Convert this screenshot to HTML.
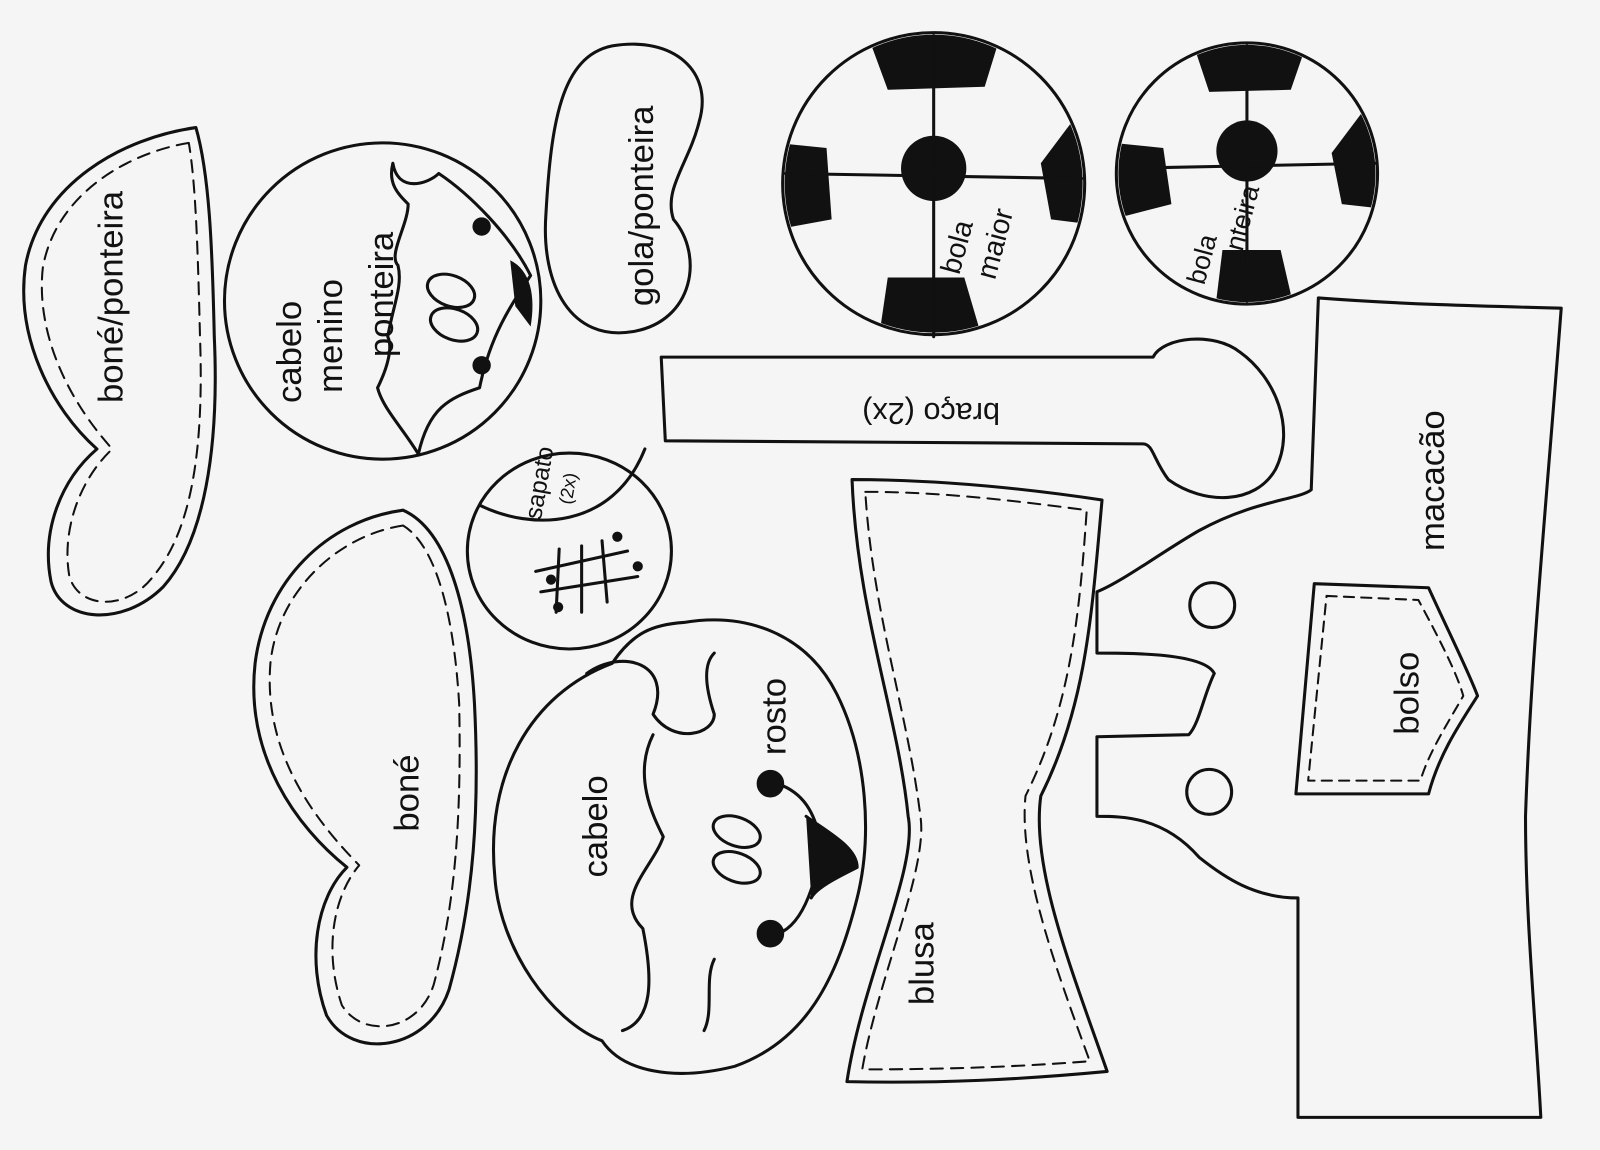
<!DOCTYPE html>
<html><head><meta charset="utf-8"><style>
html,body{margin:0;padding:0;background:#f5f5f5;}
svg{display:block}
text{font-family:"Liberation Sans",sans-serif;fill:#111;}
</style></head><body>
<svg width="1600" height="1150" viewBox="0 0 1568 1127" preserveAspectRatio="none" xmlns="http://www.w3.org/2000/svg">
<defs>
<clipPath id="c1"><circle cx="915" cy="180" r="146"/></clipPath>
<clipPath id="c2"><circle cx="1222" cy="170" r="126"/></clipPath>
</defs>
<rect width="1568" height="1127" fill="#f5f5f5"/>
<g fill="#111" clip-path="url(#c1)">
<circle cx="915" cy="165" r="32"/>
<path d="M845,20 L985,20 L965,85 L870,88 Z"/>
<path d="M760,140 L810,145 L815,215 L760,225 Z"/>
<path d="M1070,120 L1050,120 L1020,160 L1030,215 L1070,220 Z"/>
<path d="M860,340 L870,272 L945,272 L965,340 Z"/>
</g>
<g fill="#111" clip-path="url(#c2)">
<circle cx="1222" cy="148" r="30"/>
<path d="M1165,30 L1285,30 L1265,88 L1185,90 Z"/>
<path d="M1090,140 L1140,145 L1148,200 L1090,215 Z"/>
<path d="M1360,110 L1335,110 L1305,150 L1315,200 L1360,205 Z"/>
<path d="M1190,310 L1198,245 L1255,245 L1270,310 Z"/>
</g>
<g fill="none" stroke="#111" stroke-width="3" stroke-linecap="round" stroke-linejoin="round">
<path d="M192,125 C120,135 40,180 25,260 C15,330 50,400 95,440 C60,470 40,520 50,570 C60,610 120,615 160,575 C200,530 215,440 210,330 C208,240 205,170 192,125 Z"/>
<path d="M185,140 C125,150 55,190 42,262 C35,325 65,390 110,440 C78,470 60,520 68,565 C78,598 125,598 150,565 C188,520 200,440 196,330 C194,250 192,180 185,140" stroke-width="2" stroke-dasharray="12,8"/>
<circle cx="375" cy="295" r="155"/>
<path d="M385,160 C390,190 420,180 430,170 C460,190 500,230 520,270 C500,300 480,330 470,380 C440,390 420,400 410,445 C395,420 375,400 370,380 C380,360 385,340 380,330 C385,300 395,280 390,260 C380,250 400,220 400,200 C390,190 380,180 385,160 Z"/>
<ellipse cx="442" cy="285" rx="15" ry="24" transform="rotate(-70 442 285)"/>
<ellipse cx="445" cy="318" rx="15" ry="24" transform="rotate(-70 445 318)"/>
<path d="M600,45 C660,35 700,70 685,120 C675,160 650,185 660,215 C690,250 680,315 620,325 C560,335 530,280 535,210 C540,120 550,55 600,45 Z"/>
<circle cx="915" cy="180" r="148"/>
<circle cx="1222" cy="170" r="128"/>
<path d="M915,35 L915,330 M770,170 L1060,175"/>
<path d="M1222,45 L1222,295 M1098,165 L1348,160"/>
<path d="M648,350 L1130,350 C1140,330 1190,325 1215,345 C1250,370 1270,420 1250,460 C1230,495 1180,495 1145,470 C1130,450 1130,435 1120,435 L652,432 Z"/>
<ellipse cx="558" cy="540" rx="100" ry="96"/>
<path d="M470,495 C520,520 600,520 632,440"/>
<path d="M548,538 L545,600 M570,535 L570,600 M590,530 L595,590 M525,560 L615,540 M530,580 L625,565"/>
<path d="M395,500 C320,510 260,570 250,650 C240,740 290,810 340,850 C310,880 300,940 320,995 C345,1040 420,1030 440,970 C465,880 470,790 465,690 C460,600 440,520 395,500 Z"/>
<path d="M395,515 C330,525 272,580 265,650 C258,735 305,800 352,848 C325,880 318,935 335,985 C355,1018 410,1012 425,965 C448,880 452,790 450,690 C445,605 428,535 395,515" stroke-width="2" stroke-dasharray="12,8"/>
<path d="M670,610 C730,600 790,620 820,680 C850,740 855,820 840,880 C820,960 790,1020 720,1045 C660,1060 610,1050 590,1020 C540,1000 490,930 485,860 C475,760 520,680 600,650 C620,620 640,612 670,610 Z"/>
<path d="M575,660 C610,635 660,650 640,700 C660,730 700,720 700,700 C690,670 690,650 700,640 M640,720 C620,760 640,800 650,820 C640,850 600,880 630,910 C640,960 640,1000 610,1010 M700,940 C690,960 700,990 690,1010"/>
<circle cx="755" cy="768" r="12" fill="#111"/>
<circle cx="755" cy="915" r="12" fill="#111"/>
<path d="M767,770 C790,780 800,800 805,830 C800,860 790,900 767,913"/>
<ellipse cx="722" cy="815" rx="14" ry="24" transform="rotate(-70 722 815)"/>
<ellipse cx="722" cy="850" rx="14" ry="24" transform="rotate(-70 722 850)"/>
<path d="M790,800 C810,815 840,830 840,850 C820,860 800,870 795,880" fill="#111"/>
<path d="M835,470 C920,470 1000,478 1080,490 C1070,600 1065,690 1020,780 C1010,850 1050,950 1085,1050 C1000,1058 920,1062 830,1060 C845,960 900,850 890,800 C880,700 840,600 835,470 Z"/>
<path d="M848,482 C920,482 990,490 1065,500 C1058,600 1050,690 1005,780 C998,850 1035,950 1068,1040 C990,1046 920,1048 845,1048 C860,960 910,850 902,800 C890,700 855,600 848,482" stroke-width="2" stroke-dasharray="12,8"/>
<path d="M1292,292 C1370,298 1450,300 1530,302 C1515,500 1500,650 1495,800 C1495,900 1505,1000 1510,1095 L1272,1095 L1272,880 C1230,880 1200,860 1175,840 C1140,800 1100,800 1075,800 L1075,722 L1165,720 C1175,710 1180,680 1190,660 C1180,640 1110,640 1075,640 L1075,580 C1100,570 1140,540 1175,520 C1230,490 1272,490 1285,480 Z"/>
<circle cx="1188" cy="593" r="22"/>
<circle cx="1185" cy="776" r="22"/>
<path d="M1288,572 L1400,576 C1420,620 1440,660 1448,682 C1430,710 1410,740 1400,778 L1270,778 Z"/>
<path d="M1300,584 L1390,588 C1410,625 1428,660 1434,682 C1418,710 1400,738 1392,765 L1282,765 Z" stroke-width="2" stroke-dasharray="10,7"/>
</g>
<g fill="#111">
<circle cx="472" cy="222" r="9"/><circle cx="472" cy="358" r="9"/>
<path d="M500,255 C520,265 525,290 520,320 L505,300 Z"/>
<circle cx="540" cy="568" r="5"/><circle cx="547" cy="595" r="5"/><circle cx="605" cy="526" r="5"/><circle cx="625" cy="555" r="5"/>
</g>
<g font-size="34">
<text transform="translate(120,395) rotate(-90)">boné/ponteira</text>
<text transform="translate(295,395) rotate(-90)">cabelo</text>
<text transform="translate(335,385) rotate(-90)">menino</text>
<text transform="translate(385,350) rotate(-90)">ponteira</text>
<text transform="translate(640,300) rotate(-90)">gola/ponteira</text>
<text transform="translate(940,270) rotate(-75)" font-size="28">bola</text>
<text transform="translate(975,275) rotate(-75)" font-size="28">maior</text>
<text transform="translate(1180,280) rotate(-75)" font-size="26">bola</text>
<text transform="translate(1210,275) rotate(-75)" font-size="26">ponteira</text>
<text transform="translate(980,395) rotate(180)" font-size="30">braço (2x)</text>
<text transform="translate(530,510) rotate(-80)" font-size="24">sapato</text>
<text transform="translate(560,495) rotate(-80)" font-size="18">(2x)</text>
<text transform="translate(410,815) rotate(-90)">boné</text>
<text transform="translate(595,860) rotate(-90)">cabelo</text>
<text transform="translate(770,740) rotate(-90)">rosto</text>
<text transform="translate(915,985) rotate(-90)">blusa</text>
<text transform="translate(1415,540) rotate(-90)">macacão</text>
<text transform="translate(1390,720) rotate(-90)">bolso</text>
</g>
</svg>
</body></html>
